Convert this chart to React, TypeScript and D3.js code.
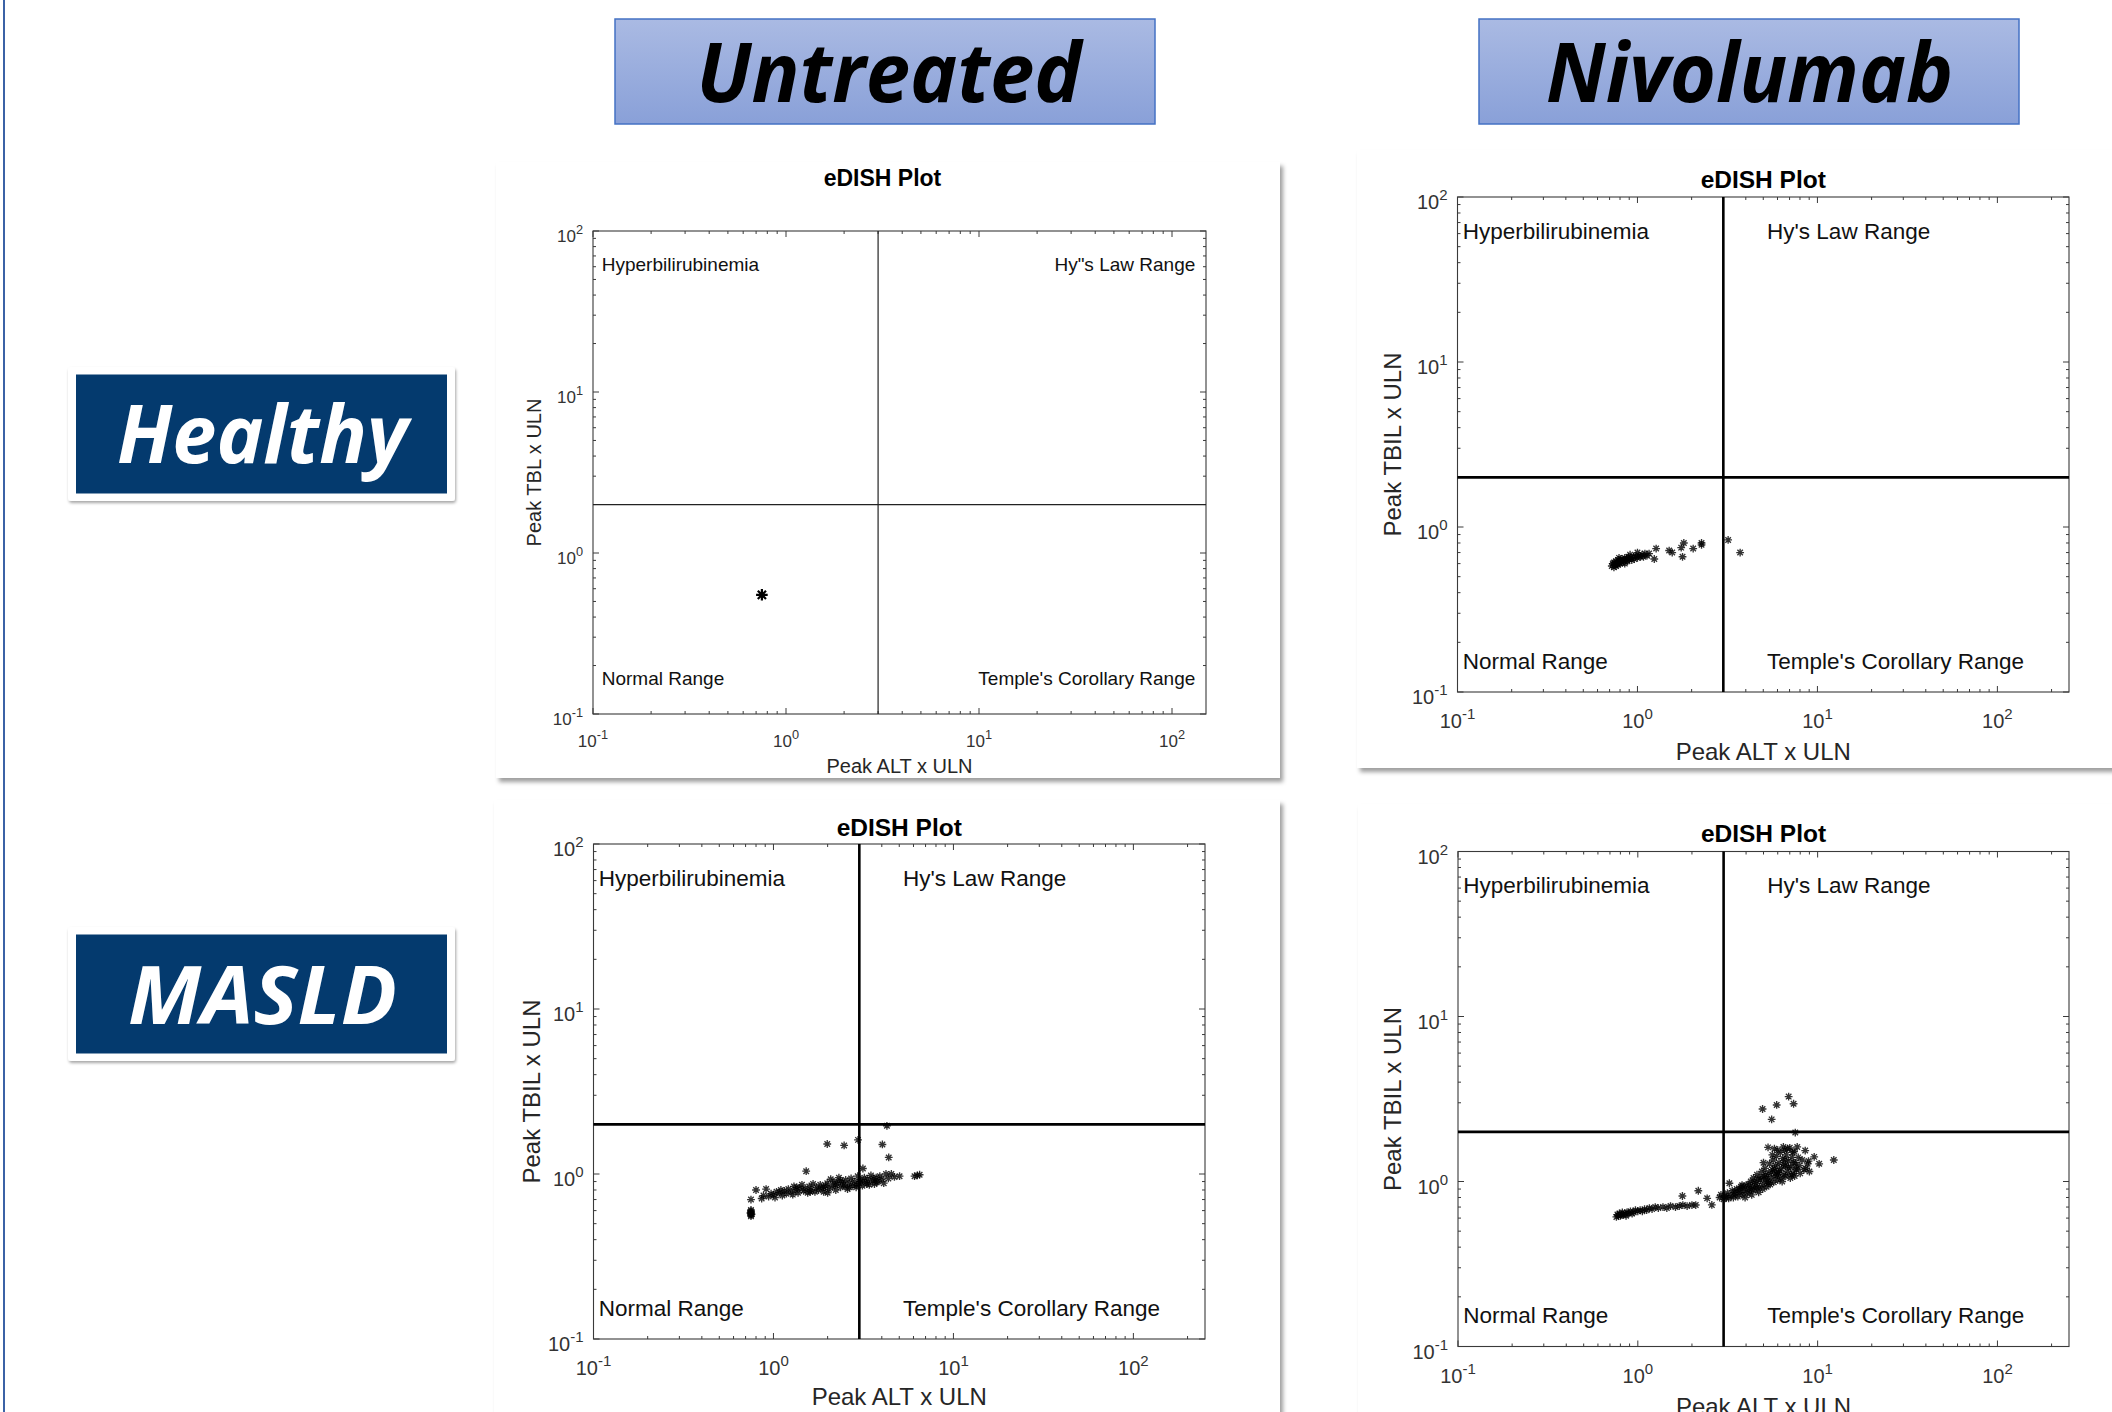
import React from 'react'
import * as d3 from 'd3'

type Pt = [number, number] // [peak ALT x ULN, peak TBIL x ULN]

const colLabels = ['Untreated', 'Nivolumab']
const rowLabels = ['Healthy', 'MASLD']
const decades = [-1, 0, 1, 2]
const altCut = 3
const tbilCut = 2

const healthyUntreated: Pt[] = [[0.75, 0.55]]

const healthyNivolumab: Pt[] = [
  [0.72, 0.58], [0.73, 0.6], [0.74, 0.57], [0.74, 0.61], [0.75, 0.59], [0.76, 0.62], [0.76, 0.58],
  [0.77, 0.6], [0.78, 0.63], [0.78, 0.59], [0.79, 0.61], [0.8, 0.62], [0.8, 0.6], [0.81, 0.64],
  [0.82, 0.61], [0.83, 0.63], [0.84, 0.62], [0.85, 0.65], [0.86, 0.63], [0.87, 0.64], [0.88, 0.62],
  [0.89, 0.66], [0.9, 0.64], [0.92, 0.65], [0.93, 0.63], [0.95, 0.66], [0.96, 0.64], [0.98, 0.67],
  [1.0, 0.65], [1.02, 0.67], [1.04, 0.66], [1.06, 0.68], [1.08, 0.66], [1.1, 0.69], [1.13, 0.67],
  [1.16, 0.69], [0.91, 0.68], [0.85, 0.6], [0.79, 0.65], [1.0, 0.7],
  [1.24, 0.64], [1.27, 0.74], [1.5, 0.72], [1.56, 0.7], [1.75, 0.75], [1.78, 0.66], [1.81, 0.8],
  [2.04, 0.74], [2.27, 0.8], [2.27, 0.78], [3.19, 0.835], [3.72, 0.7]
]

const maslUntreated: Pt[] = [
  [0.75, 0.555], [0.75, 0.565], [0.75, 0.575], [0.75, 0.585], [0.75, 0.595], [0.755, 0.57], [0.745, 0.58],
  [0.75, 0.605], [0.75, 0.7], [0.8, 0.8], [0.86, 0.71], [0.91, 0.81], [0.97, 0.76], [1.04, 0.78],
  [0.88, 0.74], [0.94, 0.73], [1.0, 0.75], [1.02, 0.72], [1.08, 0.77], [1.12, 0.74], [1.15, 0.79],
  [1.18, 0.76], [1.21, 0.81], [1.25, 0.78], [1.28, 0.75], [1.3, 0.84], [1.33, 0.8], [1.37, 0.77],
  [1.4, 0.82], [1.44, 0.86], [1.47, 0.79], [1.5, 0.81], [1.52, 1.04], [1.55, 0.77], [1.58, 0.84],
  [1.62, 0.8], [1.66, 0.87], [1.7, 0.78], [1.74, 0.83], [1.78, 0.8], [1.82, 0.86], [1.86, 0.82],
  [1.9, 0.78], [1.95, 0.85], [1.99, 0.88], [2.03, 0.81], [2.08, 0.93], [2.12, 0.84], [2.17, 0.9],
  [2.22, 0.8], [2.26, 0.87], [2.31, 0.95], [2.36, 0.83], [2.41, 0.89], [2.46, 0.86], [2.52, 0.92],
  [2.58, 0.81], [2.64, 0.88], [2.7, 0.94], [2.76, 0.85], [2.82, 0.9], [2.88, 0.83], [2.94, 0.97],
  [3.0, 0.88], [3.06, 0.92], [3.12, 0.85], [3.14, 1.08], [3.2, 0.95], [3.27, 0.89], [3.34, 0.93],
  [3.41, 0.86], [3.48, 0.98], [3.56, 0.91], [3.64, 0.87], [3.72, 0.95], [3.8, 0.9], [3.9, 0.97],
  [4.0, 0.93], [4.1, 0.88], [4.22, 1.0], [4.35, 0.94], [4.52, 1.0], [4.7, 0.96], [5.02, 0.97],
  [6.08, 0.97], [6.49, 0.99], [6.3, 0.98],
  [1.6, 0.78], [1.9, 0.83], [2.2, 0.86], [2.5, 0.84], [2.9, 0.86], [3.3, 0.87], [3.6, 0.94],
  [1.35, 0.83], [1.1, 0.8], [2.0, 0.77], [2.65, 0.83], [3.05, 0.9], [3.75, 0.89], [2.35, 0.91],
  [1.99, 1.52], [2.47, 1.49], [2.95, 1.61], [4.03, 1.51], [4.37, 1.26], [4.27, 1.96]
]

const maslNivolumab: Pt[] = [
  [0.76, 0.61], [0.77, 0.63], [0.78, 0.62], [0.79, 0.64], [0.8, 0.62], [0.81, 0.63], [0.82, 0.65],
  [0.83, 0.63], [0.85, 0.64], [0.86, 0.62], [0.87, 0.65], [0.89, 0.64], [0.91, 0.66], [0.93, 0.64],
  [0.95, 0.65], [0.97, 0.67], [1.0, 0.66], [1.03, 0.67], [1.06, 0.66], [1.09, 0.68], [1.12, 0.67],
  [1.16, 0.69], [1.2, 0.68], [1.25, 0.7], [1.3, 0.69], [1.38, 0.7], [1.45, 0.69], [1.52, 0.71],
  [1.62, 0.7], [1.7, 0.71], [1.78, 0.72], [1.88, 0.71], [2.0, 0.72], [2.1, 0.72],
  [1.77, 0.817], [2.17, 0.879], [2.43, 0.791], [2.58, 0.721],
  [2.9, 0.83], [2.85, 0.8], [3.0, 0.78], [3.05, 0.82], [3.1, 0.8], [3.15, 0.85], [3.23, 0.976],
  [3.2, 0.79], [3.3, 0.82], [3.35, 0.88], [3.4, 0.8], [3.5, 0.84], [3.55, 0.9], [3.6, 0.81],
  [3.7, 0.86], [3.75, 0.93], [3.8, 0.83], [3.9, 0.88], [3.95, 0.8], [4.0, 0.95], [4.05, 0.85],
  [4.1, 0.91], [4.2, 0.87], [4.25, 1.0], [4.3, 0.83], [4.35, 0.93], [4.4, 1.05], [4.5, 0.89],
  [4.55, 0.97], [4.6, 1.1], [4.7, 0.86], [4.75, 0.93], [4.8, 1.02], [4.9, 1.15], [4.95, 0.9],
  [5.0, 0.97], [5.05, 1.07], [5.1, 1.2], [5.2, 0.93], [5.25, 1.0], [5.3, 1.61], [5.35, 1.12],
  [5.4, 1.28], [5.45, 0.96], [5.5, 1.05], [5.6, 1.18], [5.65, 1.35], [5.7, 0.99], [5.8, 1.08],
  [5.85, 1.25], [5.9, 1.42], [6.0, 1.02], [6.05, 1.13], [6.1, 1.3], [6.2, 1.5], [6.25, 1.05],
  [6.3, 1.2], [6.4, 1.38], [6.5, 1.1], [6.55, 1.55], [6.6, 1.25], [6.7, 1.45], [6.8, 1.15],
  [6.9, 1.33], [7.0, 1.6], [7.05, 1.05], [7.1, 1.22], [7.2, 1.4], [7.3, 1.12], [7.4, 1.52],
  [7.5, 1.3], [7.6, 1.18], [7.7, 1.62], [7.8, 1.4], [7.9, 1.25], [8.0, 1.12], [8.2, 1.35],
  [8.53, 1.54], [8.6, 1.2], [8.8, 1.28], [9.0, 1.15], [9.57, 1.41], [10.2, 1.28], [12.3, 1.35],
  [3.45, 0.86], [3.65, 0.89], [3.85, 0.92], [4.15, 0.96], [4.45, 0.99], [4.65, 1.03], [4.85, 1.06],
  [5.15, 1.1], [5.35, 0.98], [5.55, 1.14], [5.75, 1.2], [5.95, 1.09], [6.15, 1.16], [6.35, 1.0],
  [6.45, 1.27], [6.65, 1.08], [6.85, 1.22], [7.15, 1.1], [7.35, 1.3], [7.65, 1.2], [5.0, 1.3],
  [5.6, 1.45], [6.0, 1.55], [6.8, 1.58], [4.3, 0.9], [3.8, 0.95], [4.6, 0.92], [5.2, 1.04],
  [5.9, 1.14], [6.6, 1.35], [7.45, 1.08], [8.4, 1.18], [8.9, 1.33], [7.25, 1.5], [6.45, 1.62],
  [5.75, 1.58], [7.51, 1.98],
  [6.9, 3.27], [7.35, 2.96], [5.92, 2.91], [4.94, 2.75], [5.55, 2.38]
]

const regionLabels = ['Hyperbilirubinemia', "Hy's Law Range", 'Normal Range', "Temple's Corollary Range"]

const sans = "'Liberation Sans', Arial, Helvetica, sans-serif"
const head = "'Open Sans', 'Noto Sans', sans-serif"

const smallFonts = { tick: 17, region: 19, axis: 20, title: 23, xTickDy: 33 }
const bigFonts = { tick: 20, region: 22.5, axis: 24, title: 24.5, xTickDy: 36 }

const panels = [
  {
    key: 'hu', card: [496, 162, 784, 616], left: 593, top: 231, width: 613, height: 483, xMax: 150,
    pts: healthyUntreated, fonts: smallFonts, yLabel: 'Peak TBL x ULN', hys: 'Hy"s Law Range',
    lineW: 1.2, lineC: '#222', markR: 5.8, markW: 2.2, markO: 1,
    lx: 0.111, rx: 132, rightAnchor: 'end', ty: 56.8, by: 0.151, titleDx: -17, titleDy: -45, xLabDy: 59, yLabDx: -52
  },
  {
    key: 'hn', card: [1357, 150, 800, 618], left: 1457.5, top: 197, width: 611.5, height: 495, xMax: 250,
    pts: healthyNivolumab, fonts: bigFonts, yLabel: 'Peak TBIL x ULN', hys: regionLabels[1],
    lineW: 2.6, lineC: '#000', markR: 3.9, markW: 1.35, markO: 0.8,
    lx: 0.107, rx: 5.25, rightAnchor: 'start', ty: 56, by: 0.138, titleDx: 0, titleDy: -9, xLabDy: 68, yLabDx: -56.5
  },
  {
    key: 'mu', card: [494, 800, 786, 650], left: 593.5, top: 844, width: 611.5, height: 495, xMax: 250,
    pts: maslUntreated, fonts: bigFonts, yLabel: 'Peak TBIL x ULN', hys: regionLabels[1],
    lineW: 2.6, lineC: '#000', markR: 3.9, markW: 1.35, markO: 0.8,
    lx: 0.107, rx: 5.25, rightAnchor: 'start', ty: 56, by: 0.138, titleDx: 0, titleDy: -8, xLabDy: 66, yLabDx: -54
  },
  {
    key: 'mn', card: [1358, 804, 800, 650], left: 1458, top: 851.5, width: 611, height: 495, xMax: 250,
    pts: maslNivolumab, fonts: bigFonts, yLabel: 'Peak TBIL x ULN', hys: regionLabels[1],
    lineW: 2.6, lineC: '#000', markR: 3.9, markW: 1.35, markO: 0.8,
    lx: 0.107, rx: 5.25, rightAnchor: 'start', ty: 56, by: 0.138, titleDx: 0, titleDy: -9.5, xLabDy: 68.5, yLabDx: -57
  }
]

const star = (r: number) => {
  const d = r * 0.7071
  return `M${-r},0H${r}M0,${-r}V${r}M${-d},${-d}L${d},${d}M${-d},${d}L${d},${-d}`
}

function Panel({ cfg }: { cfg: any }) {
  const { left, top, width, height, xMax, fonts: f } = cfg
  const right = left + width
  const bottom = top + height
  const x = d3.scaleLog().domain([0.1, xMax]).range([left, right])
  const y = d3.scaleLog().domain([0.1, 100]).range([bottom, top])

  const minors: number[] = []
  decades.forEach(e => { for (let k = 2; k <= 9; k++) minors.push(k * Math.pow(10, e)) })
  const xMinor = minors.filter(v => v < xMax)
  const yMinor = minors.filter(v => v < 100)
  const xMajor = decades.map(e => Math.pow(10, e)).filter(v => v <= xMax)
  const yMajor = decades.map(e => Math.pow(10, e))

  let ticks = ''
  const tx = (v: number, len: number) => { const p = x(v); ticks += `M${p},${bottom}V${bottom - len}M${p},${top}V${top + len}` }
  const ty = (v: number, len: number) => { const p = y(v); ticks += `M${left},${p}H${left + len}M${right},${p}H${right - len}` }
  xMinor.forEach(v => tx(v, 3))
  xMajor.forEach(v => tx(v, 6))
  yMinor.forEach(v => ty(v, 3))
  yMajor.forEach(v => ty(v, 6))

  const [cx, cy, cw, ch] = cfg.card
  const mark = star(cfg.markR)
  const expSize = f.tick * 0.75

  return (
    <g>
      <rect x={cx} y={cy} width={cw} height={ch} fill="#fff" filter="url(#cardShadow)" />
      <rect x={left} y={top} width={width} height={height} fill="#fff" stroke="#3a3a3a" strokeWidth={1.1} />
      <path d={ticks} stroke="#3a3a3a" strokeWidth={1} fill="none" />

      {decades.filter(e => Math.pow(10, e) <= xMax).map(e => (
        <text key={'xt' + e} x={x(Math.pow(10, e))} y={bottom + f.xTickDy} textAnchor="middle"
          fontFamily={sans} fontSize={f.tick} fill="#333">
          10<tspan dy={-f.tick * 0.45} fontSize={expSize}>{e}</tspan>
        </text>
      ))}
      {decades.map(e => (
        <text key={'yt' + e} x={left - 10} y={y(Math.pow(10, e)) + f.tick * 0.62} textAnchor="end"
          fontFamily={sans} fontSize={f.tick} fill="#333">
          10<tspan dy={-f.tick * 0.45} fontSize={expSize}>{e}</tspan>
        </text>
      ))}

      <line x1={x(altCut)} x2={x(altCut)} y1={top} y2={bottom} stroke={cfg.lineC} strokeWidth={cfg.lineW} />
      <line x1={left} x2={right} y1={y(tbilCut)} y2={y(tbilCut)} stroke={cfg.lineC} strokeWidth={cfg.lineW} />

      <g fontFamily={sans} fontSize={f.region} fill="#111">
        <text x={x(cfg.lx)} y={y(cfg.ty)}>{regionLabels[0]}</text>
        <text x={x(cfg.rx)} y={y(cfg.ty)} textAnchor={cfg.rightAnchor}>{cfg.hys}</text>
        <text x={x(cfg.lx)} y={y(cfg.by)}>{regionLabels[2]}</text>
        <text x={x(cfg.rx)} y={y(cfg.by)} textAnchor={cfg.rightAnchor}>{regionLabels[3]}</text>
      </g>

      <g stroke="#000" strokeOpacity={cfg.markO} strokeWidth={cfg.markW} fill="none">
        {cfg.pts.map((p: Pt, i: number) => (
          <path key={i} d={mark} transform={`translate(${x(p[0])},${y(p[1])})`} />
        ))}
      </g>

      <text x={(left + right) / 2 + cfg.titleDx} y={top + cfg.titleDy} textAnchor="middle"
        fontFamily={sans} fontWeight="bold" fontSize={f.title} fill="#000">eDISH Plot</text>
      <text x={(left + right) / 2} y={bottom + cfg.xLabDy} textAnchor="middle"
        fontFamily={sans} fontSize={f.axis} fill="#262626">Peak ALT x ULN</text>
      <text transform={`translate(${left + cfg.yLabDx},${(top + bottom) / 2}) rotate(-90)`} textAnchor="middle"
        fontFamily={sans} fontSize={f.axis} fill="#262626">{cfg.yLabel}</text>
    </g>
  )
}

// header boxes: [x, y, w, h, text centre, text length]
const colBoxes = [
  [615, 19, 540, 105, 889, 385],
  [1479, 19, 540, 105, 1749.5, 407]
]
const rowBoxes = [
  [76, 374.5, 371, 119, 463, 291],
  [76, 934.5, 371, 119, 1024, 269]
]

export default function App() {
  return (
    <div style={{ position: 'absolute', left: 0, top: 0 }}>
      <svg width={2112} height={1412} style={{ display: 'block', background: '#fff' }}>
        <defs>
          <filter id="cardShadow" x="-5%" y="-5%" width="115%" height="115%">
            <feDropShadow dx="3" dy="4" stdDeviation="2.2" floodColor="#000" floodOpacity="0.38" />
          </filter>
          <filter id="boxShadow" x="-5%" y="-10%" width="115%" height="125%">
            <feDropShadow dx="1" dy="2" stdDeviation="1.8" floodColor="#000" floodOpacity="0.35" />
          </filter>
          <linearGradient id="colGrad" x1="0" y1="0" x2="0" y2="1">
            <stop offset="0" stopColor="#AABAE3" />
            <stop offset="1" stopColor="#89A0D8" />
          </linearGradient>
        </defs>

        <line x1={4} x2={4} y1={0} y2={1412} stroke="#3B62A6" strokeWidth={2} />

        {colLabels.map((t, i) => {
          const [bx, by, bw, bh, tc, tl] = colBoxes[i]
          return (
            <g key={t}>
              <rect x={bx} y={by} width={bw} height={bh} fill="url(#colGrad)" stroke="#4472C4" strokeWidth={1.5} />
              <text x={tc} y={102} textAnchor="middle" fontFamily={head} fontWeight="bold" fontStyle="italic"
                fontSize={82} fill="#000" textLength={tl} lengthAdjust="spacingAndGlyphs">{t}</text>
            </g>
          )
        })}

        {rowLabels.map((t, i) => {
          const [bx, by, bw, bh, base, tl] = rowBoxes[i]
          return (
            <g key={t}>
              <rect x={bx - 8} y={by - 7.5} width={bw + 16} height={bh + 15} rx={3} fill="#fff" filter="url(#boxShadow)" />
              <rect x={bx} y={by} width={bw} height={bh} fill="#043A6E" />
              <text x={bx + bw / 2 + 1} y={base} textAnchor="middle" fontFamily={head} fontWeight="bold" fontStyle="italic"
                fontSize={80} fill="#fff" textLength={tl} lengthAdjust="spacingAndGlyphs">{t}</text>
            </g>
          )
        })}

        {panels.map(p => <Panel key={p.key} cfg={p} />)}
      </svg>
    </div>
  )
}
